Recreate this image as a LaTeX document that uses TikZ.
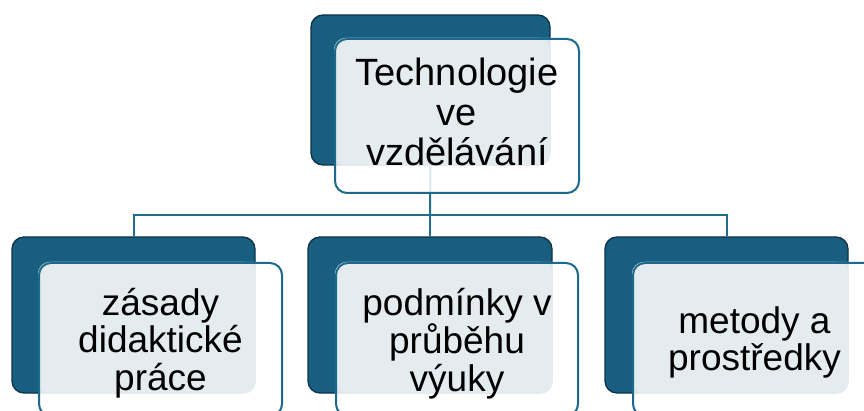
\documentclass[tikz,border=0pt]{standalone}
\usepackage{fontspec}
\setmainfont{Liberation Sans}
\definecolor{deepblue}{RGB}{23,94,128}
\definecolor{deepedge}{RGB}{13,50,70}
\definecolor{paleblue}{RGB}{229,236,240}
\definecolor{frameblue}{RGB}{28,105,140}
\definecolor{wireblue}{RGB}{34,108,142}
\pgfdeclarelayer{wires}
\pgfdeclarelayer{backs}
\pgfdeclarelayer{tints}
\pgfsetlayers{wires,backs,tints,main}
\begin{document}
\begin{tikzpicture}[x=1pt,y=-1pt,
  backbox/.style={draw=deepedge, line width=1.3pt, fill=deepblue,
    rounded corners=12pt, inner sep=0pt},
  frontbox/.style={draw=frameblue, line width=2pt, rounded corners=12pt,
    inner sep=0pt},
  cardtext/.style={align=center, text=black, inner sep=0pt,
    font=\fontsize{37}{37.5}\selectfont},
  toptext/.style={cardtext, font=\fontsize{38}{40}\selectfont},
  tint/.style={fill=paleblue, rounded corners=12pt},
  veil/.style={fill=white, fill opacity=0.85, rounded corners=12pt},
  wire/.style={draw=wireblue, line width=2pt}]
\useasboundingbox (0,0) rectangle (864,411);
\clip (0,0) rectangle (864,411);

% dark back plates
\begin{pgfonlayer}{backs}
  \node[backbox, minimum width=239pt, minimum height=150pt] (rootback) at (430.5,90) {};
  \node[backbox, minimum width=243pt, minimum height=156pt] (leftback)  at (133.5,315) {};
  \node[backbox, minimum width=244pt, minimum height=156pt] (midback)   at (430,315) {};
  \node[backbox, minimum width=243pt, minimum height=156pt] (rightback) at (726.5,315) {};
\end{pgfonlayer}

% framed cards
\node[frontbox, minimum width=244pt, minimum height=154pt] (root)  at (457,116) {};
\node[frontbox, minimum width=243pt, minimum height=153pt] (left)  at (160.5,339.5) {};
\node[frontbox, minimum width=242pt, minimum height=153pt] (mid)   at (457,339.5) {};
\node[frontbox, minimum width=243pt, minimum height=153pt] (right) at (754.5,339.5) {};

% card labels; the top label is cut off at the lower edge of its plate
\begin{scope}
  \clip (root.north west) rectangle (rootback.south -| root.east);
  \node[toptext, yshift=4.2pt] (roottext) at (root.center) {Technologie\\ve\\vzdělávání};
\end{scope}
\node[cardtext, yshift=-3.6pt] (lefttext)  at (left.center)  {zásady\\didaktické\\práce};
\node[cardtext, yshift=-3.8pt] (midtext)   at (mid.center)   {podmínky v\\průběhu\\výuky};
\node[cardtext, yshift=-3pt]   (righttext) at (right.center) {metody a\\prostředky};

% pale tint where each card overlaps its plate
\begin{pgfonlayer}{tints}
  \foreach \f/\b in {root/rootback, left/leftback, mid/midback, right/rightback}{
    \fill[veil] (\f.north west) rectangle (\f.south east);
    \fill[tint] (\f.north west) rectangle (\b.south east);
  }
\end{pgfonlayer}

% connectors
\coordinate (hub) at (430,215);
\begin{pgfonlayer}{wires}
  \draw[wire] (rootback.south) -- (hub);
  \draw[wire] (leftback.north) |- (hub) -| (rightback.north);
  \draw[wire] (hub) -- (midback.north);
\end{pgfonlayer}
\end{tikzpicture}
\end{document}
